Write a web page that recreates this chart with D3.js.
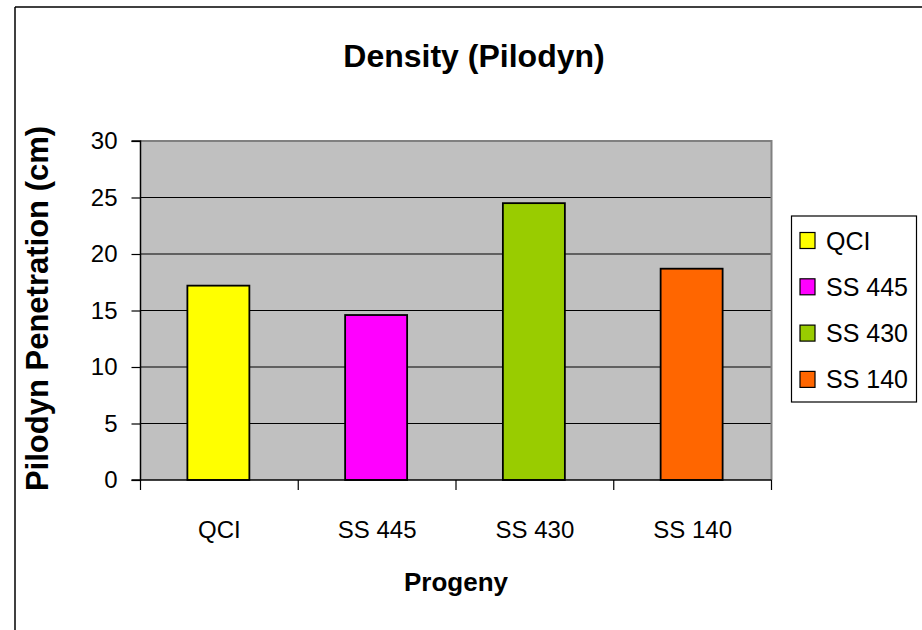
<!DOCTYPE html>
<html>
<head>
<meta charset="utf-8">
<script src="https://cdn.jsdelivr.net/npm/d3@7"></script>
<style>
  html, body { margin: 0; padding: 0; background: #fff; }
  svg { display: block; font-family: "Liberation Sans", Arial, sans-serif; }
</style>
</head>
<body>
<svg id="chart" width="922" height="630"></svg>
<script>
// Pilodyn penetration by progeny
const categories = ["QCI", "SS 445", "SS 430", "SS 140"];
const values = [17.2, 14.6, 24.5, 18.7];
const colors = ["#FFFF00", "#FF00FF", "#99CC00", "#FF6600"];
const yTicks = [0, 5, 10, 15, 20, 25, 30];

const svg = d3.select("#chart");
const W = 922, H = 630;

// frame around the chart area (left and top edges visible)
svg.append("line").attr("x1", 15).attr("y1", 7).attr("x2", W + 5).attr("y2", 7)
  .attr("stroke", "#000").attr("stroke-width", 1.5);
svg.append("line").attr("x1", 15).attr("y1", 7).attr("x2", 15).attr("y2", H + 5)
  .attr("stroke", "#000").attr("stroke-width", 1.5);

const plot = { left: 140.5, right: 771.5, top: 141, bottom: 480 };

const x = d3.scaleBand().domain(categories).range([plot.left, plot.right]).padding(0);
const y = d3.scaleLinear().domain([0, 30]).range([plot.bottom, plot.top]);

// plot background
svg.append("rect")
  .attr("x", plot.left).attr("y", plot.top)
  .attr("width", plot.right - plot.left).attr("height", plot.bottom - plot.top)
  .attr("fill", "#C0C0C0");

// horizontal gridlines
svg.append("g").selectAll("line")
  .data(yTicks.filter(t => t > 0 && t < 30))
  .join("line")
  .attr("x1", plot.left).attr("x2", plot.right)
  .attr("y1", d => y(d)).attr("y2", d => y(d))
  .attr("stroke", "#000").attr("stroke-width", 1.2);

// gray plot border on top and right
svg.append("path")
  .attr("d", `M${plot.left},${plot.top}H${plot.right}V${plot.bottom}`)
  .attr("fill", "none").attr("stroke", "#808080").attr("stroke-width", 2);

// bars
const barW = x.bandwidth() * 0.393;
svg.append("g").selectAll("rect")
  .data(values)
  .join("rect")
  .attr("x", (d, i) => x(categories[i]) + x.bandwidth() / 2 - barW / 2 - 1)
  .attr("y", d => y(d))
  .attr("width", barW)
  .attr("height", d => y(0) - y(d))
  .attr("fill", (d, i) => colors[i])
  .attr("stroke", "#000").attr("stroke-width", 1.8);

// y axis
const yAxis = d3.axisLeft(y).tickValues(yTicks).tickSize(9).tickPadding(14);
const gy = svg.append("g").attr("transform", `translate(${plot.left},0)`).call(yAxis);
gy.select(".domain").attr("stroke", "#000").attr("stroke-width", 1.5)
  .attr("d", `M-9,${plot.top}H0V${plot.bottom}H-9`);
gy.selectAll(".tick line").attr("stroke", "#000").attr("stroke-width", 1.2);
gy.selectAll(".tick text").attr("font-size", 24).attr("fill", "#000")
  .attr("font-family", "Liberation Sans, Arial, sans-serif");

// x axis
const xAxis = d3.axisBottom(x).tickSize(0).tickPadding(41);
const gx = svg.append("g").attr("transform", `translate(0,${plot.bottom})`).call(xAxis);
gx.select(".domain").attr("stroke", "#000").attr("stroke-width", 1.5)
  .attr("d", `M${plot.left},0H${plot.right}`);
gx.selectAll(".tick text").attr("font-size", 24).attr("fill", "#000")
  .attr("font-family", "Liberation Sans, Arial, sans-serif");
// tick marks between categories
const edges = categories.map(c => x(c)).concat([plot.right]);
gx.append("g").selectAll("line").data(edges).join("line")
  .attr("x1", d => d).attr("x2", d => d).attr("y1", 0).attr("y2", 10)
  .attr("stroke", "#000").attr("stroke-width", 1.2);

// titles
svg.append("text")
  .attr("x", 474).attr("y", 67).attr("text-anchor", "middle")
  .attr("font-size", 32).attr("font-weight", "bold")
  .text("Density (Pilodyn)");

svg.append("text")
  .attr("x", 456).attr("y", 591).attr("text-anchor", "middle")
  .attr("font-size", 26).attr("font-weight", "bold")
  .text("Progeny");

svg.append("text")
  .attr("transform", `translate(48,${(plot.top + plot.bottom) / 2 - 2}) rotate(-90)`)
  .attr("text-anchor", "middle")
  .attr("font-size", 31).attr("font-weight", "bold")
  .text("Pilodyn Penetration (cm)");

// legend
const legend = svg.append("g");
legend.append("rect")
  .attr("x", 791.5).attr("y", 216).attr("width", 125).attr("height", 186)
  .attr("fill", "#fff").attr("stroke", "#000").attr("stroke-width", 1.2);
const item = legend.selectAll("g.item").data(categories).join("g")
  .attr("class", "item")
  .attr("transform", (d, i) => `translate(800,${240.5 + i * 46.3})`);
item.append("rect")
  .attr("x", 0).attr("y", -8).attr("width", 15).attr("height", 16)
  .attr("fill", (d, i) => colors[i]).attr("stroke", "#000").attr("stroke-width", 1.2);
item.append("text")
  .attr("x", 26).attr("y", 9)
  .attr("font-size", 25)
  .text(d => d);
</script>
</body>
</html>
